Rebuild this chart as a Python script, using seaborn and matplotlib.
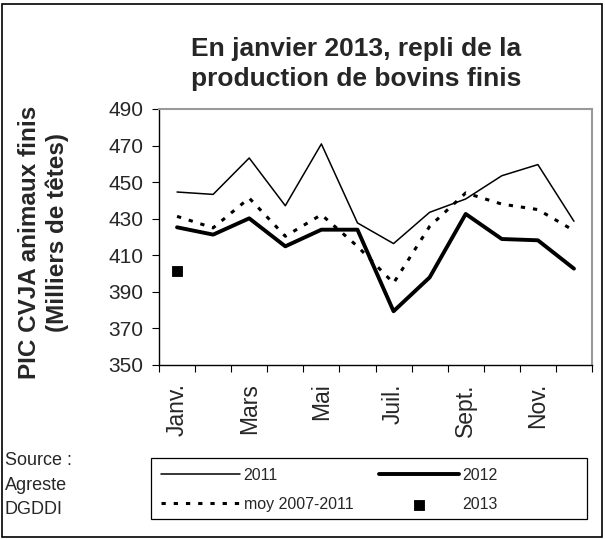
import matplotlib
matplotlib.use("Agg")
import matplotlib.pyplot as plt
import seaborn as sns
import pandas as pd
from matplotlib.patches import Rectangle

months = ["Janv.", "Févr.", "Mars", "Avr.", "Mai", "Juin", "Juil.", "Août", "Sept.", "Oct.", "Nov.", "Déc."]
tick_labels = ["Janv.", "", "Mars", "", "Mai", "", "Juil.", "", "Sept.", "", "Nov.", ""]
s2011 = [444.6, 443.3, 463.2, 437.1, 470.9, 427.7, 416.4, 433.5, 440.8, 453.5, 459.6, 428.6]
s2012 = [425.3, 421.3, 430.2, 414.9, 424.0, 424.0, 379.4, 397.9, 432.6, 418.9, 418.2, 402.7]
moy = [431.3, 425.0, 441.3, 420.4, 432.2, 414.9, 394.8, 425.8, 444.1, 438.0, 435.0, 423.5]
s2013 = [401.2]

sns.set_theme(style="white")
plt.rcParams['font.family'] = ['Liberation Sans', 'DejaVu Sans']

fig = plt.figure(figsize=(6.05, 5.39), dpi=100)
ax = fig.add_axes([159/605, 1-365/539, (592-159)/605, (365-109)/539])

x = list(range(12))
df = pd.DataFrame({"x": x, "2011": s2011, "2012": s2012, "moy": moy})
sns.lineplot(data=df, x="x", y="2011", ax=ax, color="black", lw=1.1, label="2011")
sns.lineplot(data=df, x="x", y="moy", ax=ax, color="black", lw=2.2,
             linestyle=(0, (1.4, 2.6)), label="moy 2007-2011")
sns.lineplot(data=df, x="x", y="2012", ax=ax, color="black", lw=2.8, label="2012")
df13 = pd.DataFrame({"x": x[:len(s2013)], "v": s2013})
sns.scatterplot(data=df13, x="x", y="v", ax=ax, color="black", marker="s", s=60,
                edgecolor="black", label="2013", zorder=5)

ax.set_xlim(-0.5, 11.5)
ax.set_ylim(350, 490)
ax.set_yticks(range(350, 491, 20))
ax.tick_params(axis="y", labelsize=15, length=5, width=0.8, color="black", left=True, pad=6)
ax.set_xticks([i - 0.5 for i in range(13)])
ax.set_xticklabels([])
ax.set_xticks(x, minor=True)
ax.set_xticklabels(tick_labels, minor=True, rotation=90, fontsize=16.5, va="top", ha="center")
ax.tick_params(axis="x", which="major", length=5, width=0.8, color="black", bottom=True)
ax.tick_params(axis="x", which="minor", length=0, pad=13)
ax.set_xlabel("")
ax.set_ylabel("")
for s in ["left", "bottom"]:
    ax.spines[s].set_color("black")
    ax.spines[s].set_linewidth(1.0)
for s in ["top", "right"]:
    ax.spines[s].set_color("#999999")
    ax.spines[s].set_linewidth(1.5)

ax.get_legend().remove()
h, l = ax.get_legend_handles_labels()
order = [l.index("2011"), l.index("moy 2007-2011"), l.index("2012"), l.index("2013")]
leg = fig.legend([h[i] for i in order], [l[i] for i in order], ncol=2,
                 loc="upper left", bbox_to_anchor=(151/605, 1-458/539), fontsize=11.5,
                 frameon=False, handlelength=5.0,
                 handletextpad=0.2, columnspacing=1.6, borderpad=0.6, labelspacing=0.9,
                 borderaxespad=0)
fig.add_artist(Rectangle((151/605, 1-519/539), 436/605, 61/539, transform=fig.transFigure,
                         fill=False, edgecolor="black", lw=0.9))

fig.text(356/605, 1-64/539, "En janvier 2013, repli de la\nproduction de bovins finis",
         ha="center", va="center", fontsize=19, fontweight="bold", linespacing=1.3)
fig.text(30/605, 1-242/539, "PIC CVJA animaux finis", rotation=90, ha="center", va="center",
         fontsize=17.5, fontweight="bold")
fig.text(57/605, 1-232/539, "(Milliers de têtes)", rotation=90, ha="center", va="center",
         fontsize=17.5, fontweight="bold")
fig.text(5/605, 1-485/539, "Source :\nAgreste\nDGDDI", ha="left", va="center",
         fontsize=13, linespacing=1.55)

fig.add_artist(Rectangle((2/605, 2/539), 600/605, 533/539, transform=fig.transFigure,
                         fill=False, edgecolor="black", lw=1.2))

fig.savefig("out.png", dpi=100)
